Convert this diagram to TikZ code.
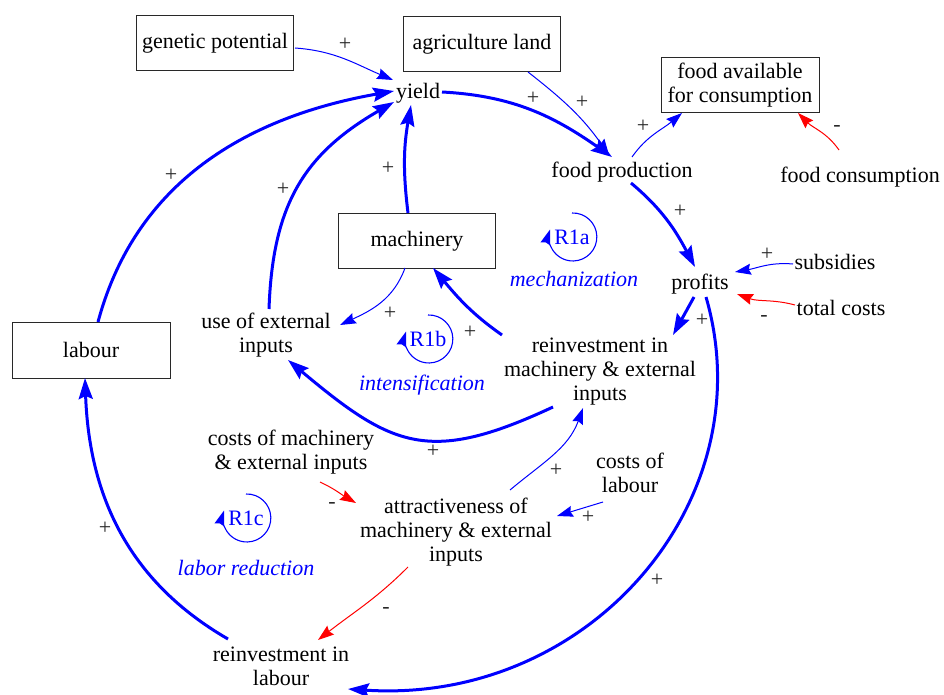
\documentclass[tikz,border=0pt]{standalone}
\usepackage{fontspec}
\setmainfont{Liberation Serif}
\usetikzlibrary{arrows.meta}
\definecolor{lblue}{RGB}{0,0,255}
\definecolor{lred}{RGB}{255,0,0}
\definecolor{lgray}{RGB}{40,40,40}
\begin{document}
\begin{tikzpicture}[x=1pt,y=1pt,
  every node/.style={font=\fontsize{22}{24}\selectfont, inner sep=2pt, align=center},
  box/.style={draw=lgray, line width=0.9pt, minimum width=157pt, minimum height=55pt},
  sign/.style={text=lgray},
  looplbl/.style={text=lblue, font=\fontsize{22}{24}\selectfont\itshape},
  loopname/.style={text=lblue},
  thinb/.style={draw=lblue, line width=1pt, -{Stealth[length=16pt,width=11pt,inset=2pt]}},
  thinr/.style={draw=lred, line width=1pt, -{Stealth[length=16pt,width=11pt,inset=2pt]}},
  thickb/.style={draw=lblue, line width=3pt, -{Stealth[length=21pt,width=14pt,inset=3pt]}},
  loopar/.style={draw=lblue, line width=1.1pt, -{Stealth[length=15pt,width=10pt,inset=1.5pt]}}
]
\useasboundingbox (0,0) rectangle (944,-695);

% boxes
\node[box] (gp) at (215,-43) {genetic potential};
\node[box] (al) at (482,-44) {agriculture land};
\node[box, minimum width=158pt] (fa) at (740,-85) {food available\\for consumption};
\node[box] (mach) at (417,-241) {machinery};
\node[box, minimum width=158pt, minimum height=56pt] (lab) at (91,-350) {labour};

% text variables
\node (yield) at (418,-93) {yield};
\node (fp) at (622,-172) {food production};
\node (fc) at (860,-177) {food consumption};
\node (prof) at (700,-284) {profits};
\node (sub) at (835,-262) {subsidies};
\node (tc) at (841,-308) {total costs};
\node (uei) at (266,-335) {use of external\\inputs};
\node (rim) at (600,-372) {reinvestment in\\machinery \& external\\inputs};
\node (cm) at (291,-452) {costs of machinery\\\& external inputs};
\node (cl) at (630,-473) {costs of\\labour};
\node (att) at (456,-532) {attractiveness of\\machinery \& external\\inputs};
\node (ril) at (281,-666) {reinvestment in\\labour};

% loop labels
\node[loopname] (r1a) at (572,-237) {R1a};
\node[looplbl] (mechan) at (574,-279) {mechanization};
\node[loopname] (r1b) at (428,-339) {R1b};
\node[looplbl] (intens) at (422,-385) {intensification};
\node[loopname] (r1c) at (246,-518) {R1c};
\node[looplbl] (labred) at (246,-568) {labor reduction};

\draw[loopar] ([shift={(0,24)}]r1a.center) arc[start angle=92,end angle=-198,radius=24];
\draw[loopar] ([shift={(0,24)}]r1b.center) arc[start angle=92,end angle=-198,radius=24];
\draw[loopar] ([shift={(0,24)}]r1c.center) arc[start angle=92,end angle=-198,radius=24];

% signs
\node[sign] (s1) at (345,-44) {+};
\node[sign] (s2) at (533,-98) {+};
\node[sign] (s3) at (582,-102) {+};
\node[sign] (s4) at (643,-126) {+};
\node[sign] (s5) at (837,-128) {-};
\node[sign] (s6) at (680,-211) {+};
\node[sign] (s7) at (767,-254) {+};
\node[sign] (s8) at (764,-318) {-};
\node[sign] (s9) at (702,-320) {+};
\node[sign] (s10) at (388,-168) {+};
\node[sign] (s11) at (283,-189) {+};
\node[sign] (s12) at (171,-175) {+};
\node[sign] (s13) at (390,-313) {+};
\node[sign] (s14) at (470,-332) {+};
\node[sign] (s15) at (433,-451) {+};
\node[sign] (s16) at (556,-470) {+};
\node[sign] (s17) at (588,-517) {+};
\node[sign] (s18) at (332,-505) {-};
\node[sign] (s19) at (386,-610) {-};
\node[sign] (s20) at (657,-580) {+};
\node[sign] (s21) at (105,-528) {+};

% connectors
\draw[thinb] ([shift={(80,-5)}]gp.center) to[out=-4,in=157] ([shift={(-25,13)}]yield.center);
\draw[thinb] ([shift={(46,-28)}]al.center) to[out=-38,in=125] ([shift={(-13,17)}]fp.center);
\draw[thickb] ([shift={(24,1)}]yield.center) to[out=-3,in=145] ([shift={(-10,15)}]fp.center);
\draw[thinb] ([shift={(10,15)}]fp.center) to[out=55,in=-140] ([shift={(-58,-28)}]fa.center);
\draw[thinr] ([shift={(-21,27)}]fc.center) to[out=125,in=-45] ([shift={(58,-28)}]fa.center);
\draw[thickb] ([shift={(9,-11)}]fp.center) to[out=-40,in=118] ([shift={(-5,17)}]prof.center);
\draw[thinb] ([shift={(-42,-2)}]sub.center) to[out=175,in=10] ([shift={(35,12)}]prof.center);
\draw[thinr] ([shift={(-46,3)}]tc.center) to[out=165,in=-20] ([shift={(37,-10)}]prof.center);
\draw[thickb] ([shift={(-6,-13)}]prof.center) -- ([shift={(73,37)}]rim.center);
\draw[thickb] ([shift={(6,-13)}]prof.center) .. controls (765,-500) and (590,-705) .. ([shift={(67,-23)}]ril.center);
\draw[thickb] ([shift={(-98,37)}]rim.center) to[out=145,in=-50] ([shift={(16,-27)}]mach.center);
\draw[thickb] ([shift={(-47,-35)}]rim.center) to[out=-155,in=-40,looseness=1.3] ([shift={(22,-25)}]uei.center);
\draw[thinb] ([shift={(-12,-27)}]mach.center) to[out=-110,in=25] ([shift={(74,10)}]uei.center);
\draw[thickb] ([shift={(-9,28)}]mach.center) to[out=97,in=-100] ([shift={(-7,-12)}]yield.center);
\draw[thickb] ([shift={(3,26)}]uei.center) to[out=88,in=-150,looseness=1.1] ([shift={(-24,-9)}]yield.center);
\draw[thickb] ([shift={(7,28)}]lab.center) to[out=75,in=-170] ([shift={(-24,2)}]yield.center);
\draw[thinr] ([shift={(29,-30)}]cm.center) to[out=-25,in=150] ([shift={(-100,29)}]att.center);
\draw[thinb] ([shift={(-27,-29)}]cl.center) -- ([shift={(101,16)}]att.center);
\draw[thinb] ([shift={(54,42)}]att.center) to[out=40,in=-110] ([shift={(-17,-36)}]rim.center);
\draw[thinr] ([shift={(-48,-35)}]att.center) to[out=-135,in=38] ([shift={(37,26)}]ril.center);
\draw[thickb] ([shift={(-53,27)}]ril.center) to[out=150,in=-88] ([shift={(-6,-28)}]lab.center);
\end{tikzpicture}
\end{document}
